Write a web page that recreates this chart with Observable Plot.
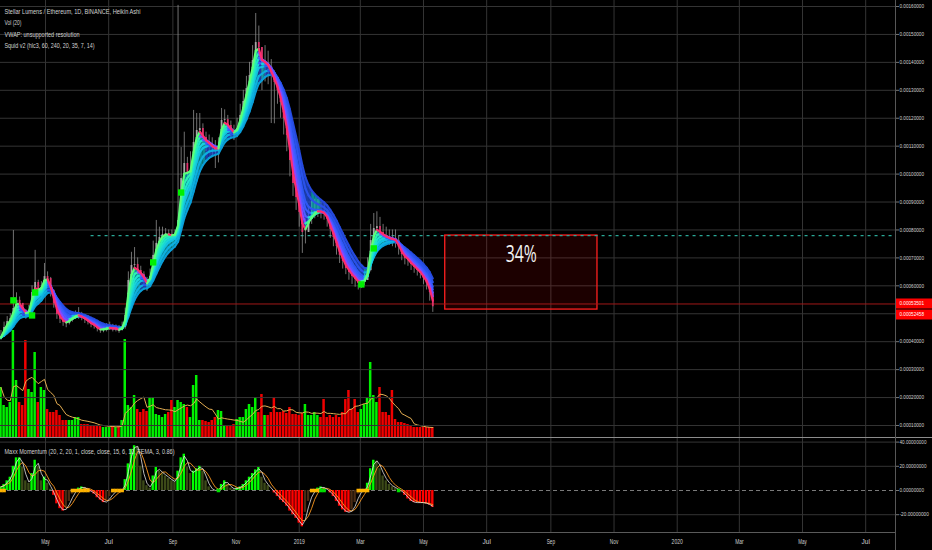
<!DOCTYPE html>
<html><head><meta charset="utf-8">
<script src="https://cdn.jsdelivr.net/npm/d3@7"></script>
<script src="https://cdn.jsdelivr.net/npm/@observablehq/plot@0.6"></script>
<style>
html,body{margin:0;padding:0;background:#000;}
#wrap{position:relative;width:932px;height:550px;background:#000;overflow:hidden;}
#wrap svg{position:absolute;left:0;}
.sep{position:absolute;left:0;top:437px;width:932px;height:1px;background:#8c8c8c;}
.vax{position:absolute;left:895px;top:0;width:1px;height:550px;background:#575757;}
</style></head><body><div id="wrap"></div>
<script>
// ---------- DATA (3-day samples, prices in 1e-6 ETH) ----------
const START = "2018-03-19";
const STEP_DAYS = 3;
const closeMicro = [415,451,472,483,519,548,537,512,494,505,
576,612,583,594,633,626,583,537,497,480,
469,465,476,487,494,497,487,480,472,462,
458,447,440,444,447,451,447,447,440,451,
494,619,673,676,655,641,623,598,633,709,
752,773,784,787,784,780,784,834,984,1038,
1006,1013,1113,1156,1163,1131,1113,1106,1095,1088,
1092,1192,1195,1174,1156,1142,1163,1210,1260,1306,
1353,1407,1471,1453,1389,1396,1385,1357,1328,1299,
1256,1199,1138,1049,966,916,863,791,791,838,
855,866,870,866,859,838,802,773,741,709,
687,662,648,633,623,608,612,619,655,762,
805,812,791,780,773,769,766,762,737,712,
698,691,676,666,655,644,626,608,576,525];
const highMicro = [440,470,490,500,798,575,560,535,515,530,
600,727,620,615,680,650,630,585,540,505,
490,485,495,505,510,522,505,495,490,480,
475,465,460,460,465,470,462,460,458,470,
520,650,720,737,700,670,650,630,660,760,
834,810,810,805,800,800,800,1604,1095,1150,
1060,1080,1228,1217,1217,1180,1150,1140,1130,1120,
1130,1235,1230,1210,1190,1175,1200,1250,1300,1350,
1400,1460,1575,1530,1450,1460,1440,1410,1370,1340,
1300,1250,1190,1100,1020,960,900,850,840,880,
905,910,910,900,895,870,840,810,780,745,
720,700,680,665,650,640,640,650,700,820,
859,865,845,820,810,800,800,800,780,745,
730,720,705,695,685,670,655,635,610,580];
const lowMicro = [405,430,455,470,480,510,520,500,480,490,
500,575,570,575,590,600,560,520,480,465,
455,450,460,470,480,480,475,465,460,450,
445,435,430,432,435,440,435,435,430,438,
445,490,600,640,630,620,600,580,600,630,
700,740,760,770,765,765,765,780,830,950,
960,905,990,1090,1110,1100,1080,1080,1060,1020,
1040,1090,1160,1150,1130,1120,1130,1160,1200,1250,
1290,1340,1400,1390,1299,1330,1320,1181,1180,1250,
1200,1140,1080,990,920,870,810,716,750,800,
820,840,845,840,835,810,770,740,710,680,
660,640,620,605,595,585,590,600,620,650,
740,770,760,750,745,745,740,735,710,690,
675,670,655,645,635,625,605,585,545,505];
const volume = [50,32,30,35,107,57,35,32,97,48,
45,85,35,50,47,28,25,25,27,22,
17,17,17,17,20,20,13,13,13,12,
12,12,12,10,10,10,11,10,12,17,
98,32,30,42,28,25,28,26,40,40,
23,22,20,23,25,37,30,37,35,33,
30,20,52,62,17,17,16,15,17,20,
27,26,12,12,12,13,18,20,20,28,
33,30,40,25,43,22,22,25,40,25,
25,26,24,30,23,23,22,24,33,22,
22,25,22,20,38,20,22,20,22,20,
25,38,47,28,38,25,28,33,40,75,
42,35,50,25,25,22,47,18,15,15,
14,13,11,10,10,10,10,10,10,10];
const momentum = [3,5,8,11,20,27,27,19,8,6,
14,25,20,8,11,6,1,-4,-11,-15,
-17,-14,-9,-3,0,2,3,2,0,-1,
-3,-6,-8,-10,-9,-5,-2,0,0,0,
9,22,34,37,36,20,8,4,2,12,
19,16,14,12,10,8,7,16,27,30,
19,14,16,18,20,16,8,3,0,0,
1,5,8,5,2,1,2,3,5,8,
11,14,17,19,11,6,4,0,-2,-5,
-8,-10,-13,-17,-20,-23,-27,-30,-18,-9,
-2,0,2,3,2,0,-2,-5,-9,-13,
-16,-18,-18,-16,-10,-3,0,0,6,18,
25,24,18,12,8,5,3,2,0,-1,
-4,-7,-9,-10,-10,-10,-10,-11,-12,-14];
const squeezeOn = [0,1,23,24,25,26,27,28,36,37,38,39,100,101,102,115,116,117,118];
const squeezeOff = [70,103,104,128];
const signals = [[4,548],[10,494],[11,576],[49,684],[58,934],[116,605],[120,734]];
const priceTicks = [0.0001,0.0002,0.0003,0.0004,0.0005,0.0006,0.0007,0.0008,0.0009,0.0010,0.0011,0.0012,0.0013,0.0014,0.0015,0.0016];
const momTicks = [40,20,0,-20];
const timeTicks = ["2018-05-01","2018-07-01","2018-09-01","2018-11-01","2019-01-01","2019-03-01","2019-05-01","2019-07-01","2019-09-01","2019-11-01","2020-01-01","2020-03-01","2020-05-01","2020-07-01"];
const timeLabels = ["May","Jul","Sep","Nov","2019","Mar","May","Jul","Sep","Nov","2020","Mar","May","Jul"];
const linePrice = 0.00053501;
const lastPrice = 0.00052458;
const zone = {start:"2019-05-22", end:"2019-10-16", top:0.00078, bottom:0.000515, label:"34%"};
const levelStart = "2018-06-14";
const titles = ["Stellar Lumens / Ethereum, 1D, BINANCE, Heikin Ashi","Vol (20)","VWAP: unsupported resolution","Squid v2 (hlc3, 60, 240, 20, 35, 7, 14)"];
const momTitle = "Maxx Momentum (20, 2, 20, 1, close, close, 15, 6, 10, TEMA, 3, 0.86)";

// ---------- DERIVED TABLES ----------
const UNIT = 1e-6, DAY = 864e5;
const D = s => new Date(s + "T00:00:00Z");
const t0 = D(START);
const dates = closeMicro.map((_, i) => new Date(+t0 + i * STEP_DAYS * DAY));
const rows = closeMicro.map((c, i) => {
  const close = c * UNIT, open = (i ? closeMicro[i - 1] : c) * UNIT;
  return {date: dates[i], open, close,
    high: Math.max(highMicro[i] * UNIT, open, close),
    low: Math.min(lowMicro[i] * UNIT, open, close),
    body: close >= open ? "#a6a6a6" : "#e0306a"};
});
const closeP = rows.map(d => d.close);
function ema(arr, n) { const a = 2 / (n + 1); let p = arr[0]; return arr.map(v => (p = p + a * (v - p))); }
const periods = [2, 3, 4, 5, 6, 8, 10];
const riseCol = ["#5cff7a","#2cf2b0","#1fe4cc","#19d2dc","#12c0e2","#0eafe0","#0a9ed8"];
const fallCol = ["#ff2d6f","#8c46ff","#4f5cff","#3a5cff","#2f58f4","#2a52ea","#2549dc"];
const emas = periods.map(n => ema(closeP, n));
const segs = [];
for (let k = periods.length - 1; k >= 0; k--) {
  const m = emas[k];
  for (let i = 0; i < m.length - 1; i++)
    segs.push({x1: dates[i], x2: dates[i + 1], y1: m[i], y2: m[i + 1], col: m[i + 1] >= m[i] ? riseCol[k] : fallCol[k]});
}
const fast = emas[0], slow = emas[emas.length - 1], mid = emas[3];
const band = [];
for (let i = 0; i < fast.length - 1; i++) {
  const col = mid[i + 1] >= mid[i] ? "#10c4d4" : "#2656f0";
  band.push({seg: i, x: dates[i], a: fast[i], b: slow[i], col}, {seg: i, x: dates[i + 1], a: fast[i + 1], b: slow[i + 1], col});
}
const volRows = volume.map((v, i) => ({date: dates[i], x1: new Date(+dates[i] - 1.2 * DAY), x2: new Date(+dates[i] + 1.2 * DAY), v,
  col: (i === 0 || closeMicro[i] >= closeMicro[i - 1]) ? "#00f000" : "#f00000"}));
const momRows = momentum.map((v, i) => {
  const p = i ? momentum[i - 1] : v;
  const col = v >= 0 ? (v >= p ? "#00ff00" : "#3c4a18") : (v <= p ? "#ff0000" : "#4a2c14");
  return {date: dates[i], x1: new Date(+dates[i] - 1.15 * DAY), x2: new Date(+dates[i] + 1.15 * DAY), v, col};
});
const sqOn = squeezeOn.map(i => ({date: dates[i], v: 0}));
const sqOff = squeezeOff.map(i => ({date: dates[i], v: 0}));
const sig = signals.map(([i, p]) => ({date: dates[i], p: p * UNIT}));
const ticks = timeTicks.map(D);
const tickLabel = new Map(ticks.map((d, i) => [+d, timeLabels[i]]));
const xDomain = [new Date(Date.UTC(2018, 2, 18, 13)), new Date(Date.UTC(2020, 6, 29, 19))];
const xFar = new Date(+xDomain[1] + 60 * DAY);
const zoneRow = {x1: D(zone.start), x2: D(zone.end), y1: zone.bottom, y2: zone.top, xm: new Date((+D(zone.start) + +D(zone.end)) / 2), label: zone.label};
const fmt8 = d3.format(".8f");

const GRID = "#343434", TXT = "#d2d2d2";
const common = {width: 932, marginLeft: 0, marginRight: 37,
  x: {type: "utc", domain: xDomain, axis: null},
  color: {type: "identity"},
  style: {background: "transparent", color: TXT, fontFamily: "Liberation Sans, Arial, sans-serif", fontSize: "7px"}};

// ---------- VOLUME (bottom layer) ----------
const volChart = Plot.plot({...common, height: 437, marginTop: 0, marginBottom: 0,
  y: {domain: [0, 437], axis: null},
  marks: [
    Plot.ruleX(ticks, {stroke: GRID}),
    Plot.rectY(volRows, {x1: "x1", x2: "x2", y: "v", fill: "col"}),
    Plot.lineY(volRows, Plot.windowY({k: 7, anchor: "end"}, {x: "date", y: "v", stroke: "#e3ad52", strokeWidth: 1}))
  ]});

// ---------- PRICE ----------
const textLine = (t, i) => Plot.text([t], {frameAnchor: "top-left", dx: 4, dy: 11 + 11.5 * i, textAnchor: "start", lineAnchor: "middle", fill: TXT, fontSize: 7.5});
const priceChart = Plot.plot({...common, height: 437, marginTop: 0, marginBottom: 0,
  y: {domain: [0.000057, 0.0016215], label: null},
  marks: [
    Plot.ruleY(priceTicks, {stroke: GRID}),
    Plot.rect([zoneRow], {x1: "x1", x2: "x2", y1: "y1", y2: "y2", fill: "#ff0000", fillOpacity: 0.11, stroke: "#ff2020", strokeWidth: 1.3}),
    Plot.ruleY([{y: zone.top, x1: D(levelStart), x2: xDomain[1]}], {y: "y", x1: "x1", x2: "x2", stroke: "#2aa897", strokeWidth: 1.2, strokeDasharray: "3,4"}),
    Plot.ruleY([linePrice], {stroke: "#a01818", strokeWidth: 1}),
    Plot.ruleX(rows, {x: "date", y1: "low", y2: "high", stroke: "#8e8e8e", strokeWidth: 0.8}),
    Plot.ruleX(rows, {x: "date", y1: "open", y2: "close", stroke: "body", strokeWidth: 1.8}),
    Plot.areaY(band, {x: "x", y1: "a", y2: "b", z: "seg", fill: "col", fillOpacity: 0.7}),
    Plot.link(segs, {x1: "x1", y1: "y1", x2: "x2", y2: "y2", stroke: "col", strokeWidth: 2.1, strokeLinecap: "round"}),
    Plot.dot(sig, {x: "date", y: "p", symbol: "square", r: 3.6, fill: "#00f000"}),
    Plot.text([zoneRow], {x: "xm", y: "y2", dy: 19, text: "label", fill: "#f2f2f2", fontSize: 23, fontFamily: "Open Sans, Liberation Sans, sans-serif", lineAnchor: "middle"}),
    ...titles.map(textLine),
    Plot.axisY(priceTicks, {anchor: "right", tickSize: 3, tickPadding: 1, tickFormat: fmt8, fill: TXT, stroke: "#777", fontSize: 5.6, label: null}),
    Plot.ruleY([{y: linePrice, x1: xDomain[1], x2: xFar}], {y: "y", x1: "x1", x2: "x2", stroke: "#ff0000", strokeWidth: 10, dy: -0.5}),
    Plot.ruleY([{y: lastPrice, x1: xDomain[1], x2: xFar}], {y: "y", x1: "x1", x2: "x2", stroke: "#ff0000", strokeWidth: 10, dy: 7.6}),
    Plot.text([{y: linePrice, x: xDomain[1], t: fmt8(linePrice)}], {x: "x", y: "y", text: "t", dx: 4, dy: -0.5, textAnchor: "start", fill: "#fff", fontSize: 5.6}),
    Plot.text([{y: lastPrice, x: xDomain[1], t: fmt8(lastPrice)}], {x: "x", y: "y", text: "t", dx: 4, dy: 7.6, textAnchor: "start", fill: "#fff", fontSize: 5.6})
  ]});

// ---------- MOMENTUM ----------
const momChart = Plot.plot({...common, height: 113, marginTop: 0, marginBottom: 18,
  y: {domain: [-34.7, 43.8], label: null},
  marks: [
    Plot.ruleX(ticks, {stroke: GRID}),
    Plot.ruleY([40, 20, -20], {stroke: GRID}),
    Plot.ruleY([0], {stroke: "#7a7a7a", strokeDasharray: "4,3"}),
    Plot.rectY(momRows, {x1: "x1", x2: "x2", y: "v", fill: "col"}),
    Plot.lineY(momRows, Plot.windowY({k: 4, anchor: "end"}, {x: "date", y: "v", stroke: "#ff9a1f", strokeWidth: 0.9})),
    Plot.lineY(momRows, Plot.windowY({k: 2, anchor: "end"}, {x: "date", y: "v", stroke: "#e4e4e4", strokeWidth: 0.8})),
    Plot.dot(sqOn, {x: "date", y: "v", symbol: "square", r: 2, fill: "#ffb300"}),
    Plot.dot(sqOff, {x: "date", y: "v", symbol: "square", r: 2, fill: "#00e000"}),
    Plot.text([momTitle], {frameAnchor: "top-left", dx: 4, dy: 13.7, textAnchor: "start", lineAnchor: "middle", fill: TXT, fontSize: 7.5}),
    Plot.ruleY([-34.7], {stroke: "#5a5a5a"}),
    Plot.axisY(momTicks, {anchor: "right", tickSize: 3, tickPadding: 1, tickFormat: d => fmt8(d).replace("\u2212", "-"), fill: TXT, stroke: "#777", fontSize: 5, label: null}),
    Plot.axisX(ticks, {tickSize: 0, tickPadding: 7, tickFormat: d => tickLabel.get(+d), fill: TXT, fontSize: 7, label: null})
  ]});

// ---------- ASSEMBLE ----------
const fitWidths = new Map([[titles[0], 136], [titles[1], 17], [titles[2], 75], [titles[3], 90], [momTitle, 170], [zone.label, 31]]);
function condense(svg) {
  svg.querySelectorAll("text").forEach(t => {
    const s = t.textContent.trim();
    let w = fitWidths.get(s);
    if (w == null && /^[-\u2212]?\d+\.\d+$/.test(s)) w = s.length * 2.45;
    if (w == null && timeLabels.includes(s)) w = s.length * 2.8;
    if (w) { t.setAttribute("textLength", w); t.setAttribute("lengthAdjust", "spacingAndGlyphs"); }
  });
}
const wrap = document.getElementById("wrap");
[[volChart, 0], [priceChart, 0], [momChart, 437]].forEach(([c, top]) => {
  c.style.top = top + "px";
  condense(c);
  wrap.appendChild(c);
});
const sep = document.createElement("div"); sep.className = "sep"; wrap.appendChild(sep);
const vax = document.createElement("div"); vax.className = "vax"; wrap.appendChild(vax);
</script></body></html>
